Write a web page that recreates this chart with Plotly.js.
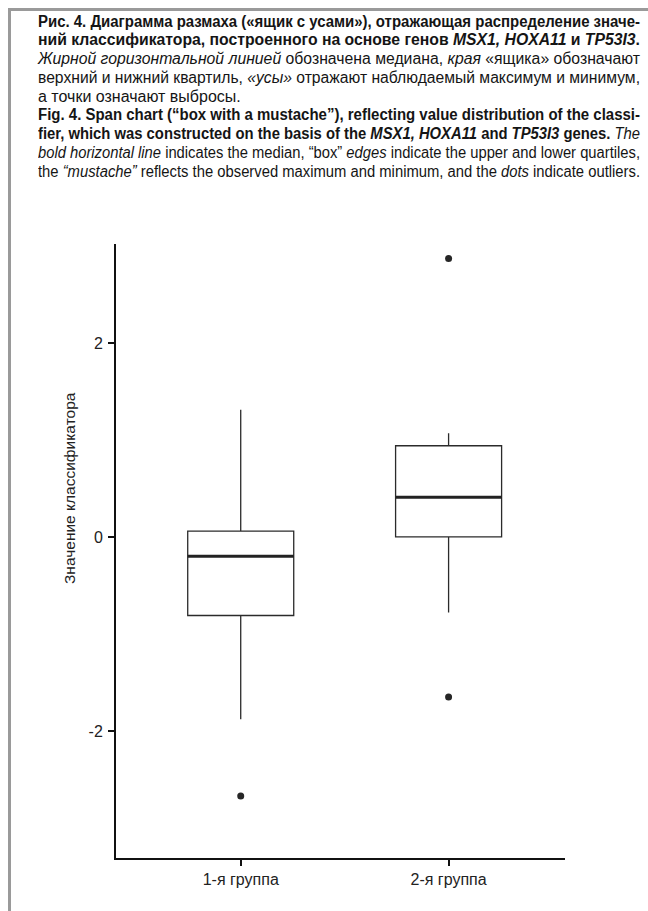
<!DOCTYPE html>
<html>
<head>
<meta charset="utf-8">
<script src="https://cdn.plot.ly/plotly-3.0.1.min.js"></script>
<style>
  html, body { margin: 0; padding: 0; background: #fff; }
  #wrap { position: relative; width: 648px; height: 911px; overflow: hidden; background: #fff; }
  #chart { position: absolute; left: 0; top: 0; width: 648px; height: 911px; }
  #cap { position: absolute; left: 38px; top: 12.6px; width: 602px; z-index: 5;
         font-family: "Liberation Sans Narrow", "Liberation Sans", Arial, sans-serif;
         font-size: 16px; color: #151515; pointer-events: none; }
  .ln { height: 18.75px; line-height: 18.75px; white-space: nowrap; }
  .ln > span { display: inline-block; transform-origin: 0 50%; }
  .b { font-weight: bold; }
  #frameTop { position: absolute; left: 8px; top: 8px; width: 640px; height: 3px; background: #9a9a9a; z-index: 6; }
  #frameLeft { position: absolute; left: 8px; top: 8px; width: 3px; height: 903px; background: #9a9a9a; z-index: 6; }
</style>
</head>
<body>
<div id="wrap">
  <div id="chart"></div>
  <div id="frameTop"></div>
  <div id="frameLeft"></div>
  <div id="cap">
    <div class="ln j"><span class="b">Рис. 4. Диаграмма размаха («ящик с усами»), отражающая распределение значе-</span></div>
    <div class="ln j"><span class="b">ний классификатора, построенного на основе генов <i>MSX1, HOXA11</i> и <i>TP53I3</i>.</span></div>
    <div class="ln j"><span><i>Жирной горизонтальной линией</i> обозначена медиана, <i>края</i> «ящика» обозначают</span></div>
    <div class="ln j"><span>верхний и нижний квартиль, <i>«усы»</i> отражают наблюдаемый максимум и минимум,</span></div>
    <div class="ln"><span>а точки означают выбросы.</span></div>
    <div class="ln j"><span class="b">Fig. 4. Span chart (“box with a mustache”), reflecting value distribution of the classi-</span></div>
    <div class="ln j"><span><b>fier, which was constructed on the basis of the <i>MSX1, HOXA11</i> and <i>TP53I3</i> genes.</b> <i>The</i></span></div>
    <div class="ln j"><span><i>bold horizontal line</i> indicates the median, “box” <i>edges</i> indicate the upper and lower quartiles,</span></div>
    <div class="ln j"><span>the <i>“mustache”</i> reflects the observed maximum and minimum, and the <i>dots</i> indicate outliers.</span></div>
  </div>
</div>
<script>
// ---- data ----
const groups = ['1-я группа', '2-я группа'];
const q1 = [-0.81, 0.00];
const median = [-0.20, 0.41];
const q3 = [0.06, 0.94];
const lowerWhisker = [-1.88, -0.78];
const upperWhisker = [1.31, 1.07];
const outlierGroup = ['1-я группа', '2-я группа', '2-я группа'];
const outlierValue = [-2.67, 2.87, -1.65];
const yTickVals = [-2, 0, 2];
const yTickText = ['-2', '0', '2'];
const yTitle = 'Значение классификатора';

const FONT = 'Liberation Sans Narrow, Liberation Sans, Arial, sans-serif';
const INK = '#2b2b2b';

const boxTrace = {
  type: 'box', x: groups, q1: q1, median: median, q3: q3,
  lowerfence: lowerWhisker, upperfence: upperWhisker,
  width: 0.51, whiskerwidth: 0, boxpoints: false,
  fillcolor: 'rgba(0,0,0,0)', line: { color: INK, width: 1.3 },
  showlegend: false, hoverinfo: 'skip'
};
// bold median line drawn as a flat box at the median
const medianTrace = {
  type: 'box', x: groups, q1: median, median: median, q3: median,
  lowerfence: median, upperfence: median,
  width: 0.51, whiskerwidth: 0, boxpoints: false,
  fillcolor: 'rgba(0,0,0,0)', line: { color: '#222', width: 3 },
  showlegend: false, hoverinfo: 'skip'
};
const outlierTrace = {
  type: 'scatter', mode: 'markers', x: outlierGroup, y: outlierValue,
  marker: { size: 7, color: '#262626' }, showlegend: false, hoverinfo: 'skip'
};

const W = 648, H = 911;
const L = 116, R = 565, T = 244, B = 858;
const layout = {
  width: W, height: H,
  margin: { l: L, r: W - R, t: T, b: H - B, pad: 0 },
  paper_bgcolor: '#fff', plot_bgcolor: '#fff',
  boxmode: 'overlay', showlegend: false,
  xaxis: {
    type: 'category', categoryorder: 'array', categoryarray: groups,
    range: [-0.6, 1.56], showgrid: false, zeroline: false,
    showline: true, linecolor: '#111', linewidth: 2,
    ticks: 'outside', ticklen: 6, tickwidth: 2, tickcolor: '#111',
    tickfont: { family: FONT, size: 16, color: '#222' }
  },
  yaxis: {
    range: [-3.31, 3.02], tickvals: yTickVals, ticktext: yTickText,
    showgrid: false, zeroline: false,
    showline: true, linecolor: '#111', linewidth: 2,
    ticks: 'outside', ticklen: 6, tickwidth: 2, tickcolor: '#111',
    ticklabelstandoff: 2,
    tickfont: { family: FONT, size: 16, color: '#222' }
  },
  annotations: [{
    text: yTitle, textangle: -90, showarrow: false,
    xref: 'paper', yref: 'paper',
    x: (69 - L) / (R - L), y: (B - 488) / (B - T),
    xanchor: 'center', yanchor: 'middle',
    font: { family: FONT, size: 15.5, color: '#222' }
  }]
};

Plotly.newPlot('chart', [boxTrace, medianTrace, outlierTrace], layout, { staticPlot: true, displayModeBar: false });

function fitCaption() {
  const target = 602;
  document.querySelectorAll('#cap .ln').forEach(function (ln) {
    const sp = ln.firstElementChild;
    sp.style.wordSpacing = '0px';
    sp.style.transform = 'none';
    const w = sp.getBoundingClientRect().width;
    if (w > target) {
      sp.style.transform = 'scaleX(' + (target / w) + ')';
    } else if (ln.classList.contains('j')) {
      const n = (sp.textContent.match(/ /g) || []).length;
      if (n > 0) sp.style.wordSpacing = ((target - w) / n) + 'px';
    }
  });
}
fitCaption();
if (document.fonts && document.fonts.ready) document.fonts.ready.then(fitCaption);
</script>
</body>
</html>
